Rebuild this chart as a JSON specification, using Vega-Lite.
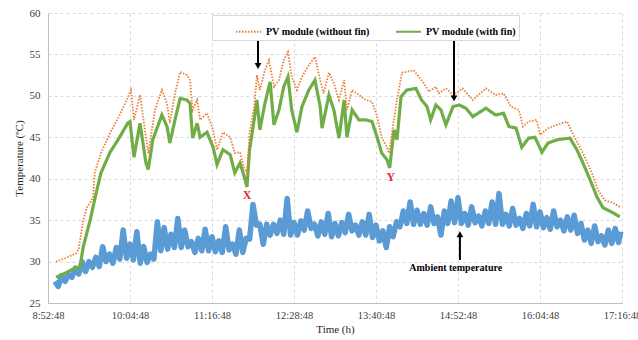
{
  "$schema": "https://vega.github.io/schema/vega-lite/v6.json",
  "width": 574,
  "height": 290,
  "autosize": "none",
  "padding": {"left": 48, "top": 13, "right": 16, "bottom": 37},
  "background": "white",
  "config": {
    "view": {"stroke": null},
    "font": "Liberation Serif",
    "axis": {
      "grid": true,
      "gridDash": [3, 3],
      "gridColor": "#d9d9d9",
      "ticks": false,
      "domainColor": "#bfbfbf",
      "labelFont": "Liberation Serif",
      "labelColor": "#404040",
      "titleFont": "Liberation Serif",
      "titleColor": "#262626",
      "titleFontWeight": "normal",
      "titleFontSize": 11
    },
    "legend": {
      "orient": "none",
      "legendX": 164,
      "legendY": 2,
      "direction": "horizontal",
      "fillColor": "white",
      "strokeColor": "#d9d9d9",
      "padding": 3,
      "symbolOffset": 20,
      "symbolType": "stroke",
      "symbolSize": 625,
      "symbolStrokeWidth": 2,
      "labelFont": "Liberation Serif",
      "labelFontWeight": "bold",
      "labelFontSize": 10,
      "labelColor": "#000000",
      "labelOffset": 4,
      "columnPadding": 5,
      "labelLimit": 300
    }
  },
  "datasets": {
    "amb": [
      {"t":6,"temp":27.6},{"t":9,"temp":27.0},{"t":12,"temp":28.3},{"t":15,"temp":27.6},{"t":18,"temp":28.4},{"t":21,"temp":28.1},{"t":24,"temp":29.2},{"t":27,"temp":28.5},{"t":30,"temp":30.0},{"t":33,"temp":28.8},{"t":36,"temp":30.0},{"t":39,"temp":29.3},{"t":42,"temp":30.5},{"t":45,"temp":29.4},{"t":48,"temp":31.8},{"t":51,"temp":30.0},{"t":54,"temp":30.9},{"t":57,"temp":29.8},{"t":60,"temp":31.7},{"t":63,"temp":30.3},{"t":66,"temp":33.8},{"t":69,"temp":30.4},{"t":72,"temp":32.1},{"t":75,"temp":30.2},{"t":78,"temp":33.6},{"t":81,"temp":29.8},{"t":84,"temp":31.8},{"t":87,"temp":29.9},{"t":90,"temp":30.9},{"t":93,"temp":30.3},{"t":96,"temp":34.8},{"t":99,"temp":31.3},{"t":102,"temp":34.1},{"t":105,"temp":31.5},{"t":108,"temp":33.3},{"t":111,"temp":31.7},{"t":114,"temp":35.2},{"t":117,"temp":31.7},{"t":120,"temp":33.8},{"t":123,"temp":31.8},{"t":126,"temp":32.4},{"t":129,"temp":31.1},{"t":132,"temp":32.8},{"t":135,"temp":31.3},{"t":138,"temp":33.9},{"t":141,"temp":31.3},{"t":144,"temp":33.0},{"t":147,"temp":31.2},{"t":150,"temp":32.5},{"t":153,"temp":31.1},{"t":156,"temp":34.2},{"t":159,"temp":31.4},{"t":162,"temp":32.1},{"t":165,"temp":30.9},{"t":168,"temp":33.8},{"t":171,"temp":31.1},{"t":174,"temp":32.8},{"t":177,"temp":32.7},{"t":180,"temp":36.9},{"t":183,"temp":34.4},{"t":186,"temp":34.5},{"t":189,"temp":32.1},{"t":192,"temp":34.5},{"t":195,"temp":33.2},{"t":198,"temp":34.5},{"t":201,"temp":33.4},{"t":204,"temp":35.0},{"t":207,"temp":33.3},{"t":210,"temp":37.6},{"t":213,"temp":33.2},{"t":216,"temp":34.7},{"t":219,"temp":33.2},{"t":222,"temp":34.9},{"t":225,"temp":33.8},{"t":228,"temp":36.1},{"t":231,"temp":34.0},{"t":234,"temp":34.5},{"t":237,"temp":33.1},{"t":240,"temp":34.8},{"t":243,"temp":33.3},{"t":246,"temp":35.8},{"t":249,"temp":33.0},{"t":252,"temp":34.6},{"t":255,"temp":33.1},{"t":258,"temp":34.7},{"t":261,"temp":33.5},{"t":264,"temp":35.7},{"t":267,"temp":33.7},{"t":270,"temp":34.4},{"t":273,"temp":33.2},{"t":276,"temp":34.8},{"t":279,"temp":33.2},{"t":282,"temp":35.7},{"t":285,"temp":32.9},{"t":288,"temp":34.4},{"t":291,"temp":32.5},{"t":294,"temp":33.7},{"t":297,"temp":31.7},{"t":300,"temp":34.2},{"t":303,"temp":33.0},{"t":306,"temp":34.8},{"t":309,"temp":34.2},{"t":312,"temp":36.1},{"t":315,"temp":34.6},{"t":318,"temp":37.2},{"t":321,"temp":34.5},{"t":324,"temp":36.2},{"t":327,"temp":34.5},{"t":330,"temp":35.8},{"t":333,"temp":34.4},{"t":336,"temp":36.6},{"t":339,"temp":34.6},{"t":342,"temp":35.4},{"t":345,"temp":33.2},{"t":348,"temp":36.1},{"t":351,"temp":34.6},{"t":354,"temp":37.3},{"t":357,"temp":34.7},{"t":360,"temp":37.7},{"t":363,"temp":34.6},{"t":366,"temp":35.8},{"t":369,"temp":34.4},{"t":372,"temp":36.6},{"t":375,"temp":34.7},{"t":378,"temp":35.5},{"t":381,"temp":34.3},{"t":384,"temp":36.1},{"t":387,"temp":34.6},{"t":390,"temp":37.2},{"t":393,"temp":34.5},{"t":396,"temp":38.2},{"t":399,"temp":34.5},{"t":402,"temp":35.7},{"t":405,"temp":34.3},{"t":408,"temp":36.4},{"t":411,"temp":34.4},{"t":414,"temp":35.2},{"t":417,"temp":34.0},{"t":420,"temp":35.8},{"t":423,"temp":34.3},{"t":426,"temp":36.9},{"t":429,"temp":34.2},{"t":432,"temp":36.0},{"t":435,"temp":34.1},{"t":438,"temp":35.3},{"t":441,"temp":33.9},{"t":444,"temp":36.1},{"t":447,"temp":34.2},{"t":450,"temp":35.0},{"t":453,"temp":33.7},{"t":456,"temp":35.4},{"t":459,"temp":33.8},{"t":462,"temp":35.6},{"t":465,"temp":33.4},{"t":468,"temp":34.6},{"t":471,"temp":32.6},{"t":474,"temp":33.8},{"t":477,"temp":32.2},{"t":480,"temp":34.3},{"t":483,"temp":32.4},{"t":486,"temp":33.1},{"t":489,"temp":32.0},{"t":492,"temp":33.8},{"t":495,"temp":32.2},{"t":498,"temp":34.0},{"t":501,"temp":32.3},{"t":503,"temp":33.6}
    ],
    "pv": [
      {"series":"PV module (without fin)","t":7,"temp":30.0},{"series":"PV module (without fin)","t":15,"temp":30.4},{"series":"PV module (without fin)","t":24.6,"temp":31.0},{"series":"PV module (without fin)","t":27,"temp":31.5},{"series":"PV module (without fin)","t":30.7,"temp":34.8},{"series":"PV module (without fin)","t":34,"temp":36.5},{"series":"PV module (without fin)","t":37,"temp":37.1},{"series":"PV module (without fin)","t":39.5,"temp":37.7},{"series":"PV module (without fin)","t":41,"temp":40.7},{"series":"PV module (without fin)","t":46.5,"temp":43.1},{"series":"PV module (without fin)","t":54.4,"temp":45.5},{"series":"PV module (without fin)","t":61.5,"temp":47.3},{"series":"PV module (without fin)","t":68.5,"temp":49.3},{"series":"PV module (without fin)","t":72.9,"temp":50.7},{"series":"PV module (without fin)","t":75.5,"temp":47.1},{"series":"PV module (without fin)","t":80.8,"temp":50.1},{"series":"PV module (without fin)","t":86,"temp":45.0},{"series":"PV module (without fin)","t":88,"temp":43.1},{"series":"PV module (without fin)","t":94,"temp":48.3},{"series":"PV module (without fin)","t":100,"temp":50.7},{"series":"PV module (without fin)","t":104.5,"temp":49.1},{"series":"PV module (without fin)","t":107,"temp":46.7},{"series":"PV module (without fin)","t":111.5,"temp":50.3},{"series":"PV module (without fin)","t":116,"temp":52.9},{"series":"PV module (without fin)","t":122,"temp":52.5},{"series":"PV module (without fin)","t":124.7,"temp":51.9},{"series":"PV module (without fin)","t":127,"temp":48.3},{"series":"PV module (without fin)","t":131,"temp":49.5},{"series":"PV module (without fin)","t":133.5,"temp":47.1},{"series":"PV module (without fin)","t":139.6,"temp":47.9},{"series":"PV module (without fin)","t":145,"temp":45.9},{"series":"PV module (without fin)","t":148.4,"temp":43.5},{"series":"PV module (without fin)","t":153.6,"temp":45.6},{"series":"PV module (without fin)","t":160,"temp":45.0},{"series":"PV module (without fin)","t":164,"temp":43.1},{"series":"PV module (without fin)","t":168.6,"temp":43.2},{"series":"PV module (without fin)","t":172,"temp":41.4},{"series":"PV module (without fin)","t":174.7,"temp":40.7},{"series":"PV module (without fin)","t":177,"temp":45.5},{"series":"PV module (without fin)","t":181,"temp":48.7},{"series":"PV module (without fin)","t":183.5,"temp":52.5},{"series":"PV module (without fin)","t":186,"temp":50.7},{"series":"PV module (without fin)","t":190.5,"temp":53.1},{"series":"PV module (without fin)","t":194,"temp":54.3},{"series":"PV module (without fin)","t":198.4,"temp":51.1},{"series":"PV module (without fin)","t":202.8,"temp":51.9},{"series":"PV module (without fin)","t":207,"temp":54.3},{"series":"PV module (without fin)","t":210.7,"temp":55.3},{"series":"PV module (without fin)","t":214,"temp":52.3},{"series":"PV module (without fin)","t":218.6,"temp":50.7},{"series":"PV module (without fin)","t":223,"temp":52.3},{"series":"PV module (without fin)","t":229,"temp":53.7},{"series":"PV module (without fin)","t":234.4,"temp":54.7},{"series":"PV module (without fin)","t":239,"temp":51.9},{"series":"PV module (without fin)","t":242,"temp":50.3},{"series":"PV module (without fin)","t":246.7,"temp":52.8},{"series":"PV module (without fin)","t":251,"temp":51.5},{"series":"PV module (without fin)","t":255.5,"temp":49.5},{"series":"PV module (without fin)","t":260,"temp":51.9},{"series":"PV module (without fin)","t":262.5,"temp":48.3},{"series":"PV module (without fin)","t":267,"temp":50.7},{"series":"PV module (without fin)","t":273,"temp":50.1},{"series":"PV module (without fin)","t":279,"temp":49.5},{"series":"PV module (without fin)","t":284.5,"temp":49.3},{"series":"PV module (without fin)","t":289,"temp":47.5},{"series":"PV module (without fin)","t":293,"temp":45.0},{"series":"PV module (without fin)","t":297.6,"temp":43.8},{"series":"PV module (without fin)","t":299.4,"temp":43.1},{"series":"PV module (without fin)","t":302,"temp":45.5},{"series":"PV module (without fin)","t":306.4,"temp":49.5},{"series":"PV module (without fin)","t":310.8,"temp":52.8},{"series":"PV module (without fin)","t":315,"temp":52.9},{"series":"PV module (without fin)","t":321,"temp":53.1},{"series":"PV module (without fin)","t":325.7,"temp":52.3},{"series":"PV module (without fin)","t":330,"temp":51.5},{"series":"PV module (without fin)","t":334.5,"temp":50.5},{"series":"PV module (without fin)","t":340.6,"temp":51.1},{"series":"PV module (without fin)","t":343,"temp":50.3},{"series":"PV module (without fin)","t":349.4,"temp":50.9},{"series":"PV module (without fin)","t":356,"temp":50.1},{"series":"PV module (without fin)","t":364,"temp":50.9},{"series":"PV module (without fin)","t":373,"temp":49.5},{"series":"PV module (without fin)","t":384.5,"temp":50.9},{"series":"PV module (without fin)","t":393,"temp":50.1},{"series":"PV module (without fin)","t":400,"temp":50.3},{"series":"PV module (without fin)","t":406.5,"temp":48.7},{"series":"PV module (without fin)","t":413.5,"temp":48.3},{"series":"PV module (without fin)","t":417,"temp":46.3},{"series":"PV module (without fin)","t":422,"temp":46.9},{"series":"PV module (without fin)","t":429,"temp":47.1},{"series":"PV module (without fin)","t":432,"temp":45.3},{"series":"PV module (without fin)","t":439,"temp":46.1},{"series":"PV module (without fin)","t":447,"temp":46.5},{"series":"PV module (without fin)","t":455.7,"temp":46.9},{"series":"PV module (without fin)","t":462.7,"temp":44.9},{"series":"PV module (without fin)","t":469.7,"temp":43.1},{"series":"PV module (without fin)","t":477.6,"temp":40.7},{"series":"PV module (without fin)","t":483,"temp":38.6},{"series":"PV module (without fin)","t":489,"temp":37.4},{"series":"PV module (without fin)","t":496,"temp":37.1},{"series":"PV module (without fin)","t":502,"temp":36.6},
      {"series":"PV module (with fin)","t":7,"temp":28.1},{"series":"PV module (with fin)","t":15,"temp":28.6},{"series":"PV module (with fin)","t":23.5,"temp":29.2},{"series":"PV module (with fin)","t":28,"temp":29.3},{"series":"PV module (with fin)","t":31,"temp":31.8},{"series":"PV module (with fin)","t":37,"temp":35.0},{"series":"PV module (with fin)","t":41.5,"temp":37.8},{"series":"PV module (with fin)","t":46.5,"temp":40.7},{"series":"PV module (with fin)","t":54.5,"temp":43.2},{"series":"PV module (with fin)","t":61.5,"temp":44.7},{"series":"PV module (with fin)","t":70,"temp":46.7},{"series":"PV module (with fin)","t":72,"temp":46.9},{"series":"PV module (with fin)","t":75.5,"temp":42.6},{"series":"PV module (with fin)","t":80.8,"temp":46.7},{"series":"PV module (with fin)","t":86,"temp":41.9},{"series":"PV module (with fin)","t":88,"temp":41.1},{"series":"PV module (with fin)","t":92,"temp":44.7},{"series":"PV module (with fin)","t":100,"temp":47.7},{"series":"PV module (with fin)","t":104.5,"temp":46.3},{"series":"PV module (with fin)","t":107,"temp":44.3},{"series":"PV module (with fin)","t":111.5,"temp":47.1},{"series":"PV module (with fin)","t":116,"temp":49.7},{"series":"PV module (with fin)","t":122,"temp":49.5},{"series":"PV module (with fin)","t":124.7,"temp":49.1},{"series":"PV module (with fin)","t":127,"temp":44.9},{"series":"PV module (with fin)","t":131,"temp":46.7},{"series":"PV module (with fin)","t":133.5,"temp":45.0},{"series":"PV module (with fin)","t":139.6,"temp":45.6},{"series":"PV module (with fin)","t":145,"temp":43.8},{"series":"PV module (with fin)","t":148.4,"temp":41.7},{"series":"PV module (with fin)","t":153.6,"temp":43.5},{"series":"PV module (with fin)","t":160,"temp":42.9},{"series":"PV module (with fin)","t":164,"temp":40.7},{"series":"PV module (with fin)","t":168.6,"temp":41.9},{"series":"PV module (with fin)","t":172,"temp":40.4},{"series":"PV module (with fin)","t":174.7,"temp":39.0},{"series":"PV module (with fin)","t":177,"temp":43.5},{"series":"PV module (with fin)","t":181,"temp":47.1},{"series":"PV module (with fin)","t":183.5,"temp":49.5},{"series":"PV module (with fin)","t":186,"temp":45.9},{"series":"PV module (with fin)","t":190.5,"temp":49.1},{"series":"PV module (with fin)","t":195,"temp":51.7},{"series":"PV module (with fin)","t":198.4,"temp":46.5},{"series":"PV module (with fin)","t":202.8,"temp":48.3},{"series":"PV module (with fin)","t":207,"temp":51.1},{"series":"PV module (with fin)","t":210.7,"temp":52.3},{"series":"PV module (with fin)","t":214,"temp":48.3},{"series":"PV module (with fin)","t":218.6,"temp":45.6},{"series":"PV module (with fin)","t":223,"temp":48.7},{"series":"PV module (with fin)","t":229,"temp":50.7},{"series":"PV module (with fin)","t":234.4,"temp":51.9},{"series":"PV module (with fin)","t":239,"temp":48.7},{"series":"PV module (with fin)","t":240.6,"temp":46.1},{"series":"PV module (with fin)","t":246.7,"temp":50.1},{"series":"PV module (with fin)","t":251,"temp":48.3},{"series":"PV module (with fin)","t":255.5,"temp":44.9},{"series":"PV module (with fin)","t":260,"temp":49.5},{"series":"PV module (with fin)","t":262.5,"temp":45.0},{"series":"PV module (with fin)","t":267,"temp":48.3},{"series":"PV module (with fin)","t":273,"temp":47.1},{"series":"PV module (with fin)","t":279,"temp":47.1},{"series":"PV module (with fin)","t":284.5,"temp":46.9},{"series":"PV module (with fin)","t":289,"temp":45.0},{"series":"PV module (with fin)","t":293,"temp":43.1},{"series":"PV module (with fin)","t":297.6,"temp":42.3},{"series":"PV module (with fin)","t":300,"temp":41.3},{"series":"PV module (with fin)","t":303.8,"temp":45.9},{"series":"PV module (with fin)","t":306.4,"temp":44.7},{"series":"PV module (with fin)","t":310,"temp":49.9},{"series":"PV module (with fin)","t":315,"temp":50.7},{"series":"PV module (with fin)","t":323,"temp":50.9},{"series":"PV module (with fin)","t":328,"temp":49.5},{"series":"PV module (with fin)","t":332.8,"temp":48.7},{"series":"PV module (with fin)","t":336,"temp":47.1},{"series":"PV module (with fin)","t":340.6,"temp":48.9},{"series":"PV module (with fin)","t":345,"temp":48.3},{"series":"PV module (with fin)","t":349.4,"temp":46.5},{"series":"PV module (with fin)","t":355.6,"temp":48.7},{"series":"PV module (with fin)","t":361,"temp":48.9},{"series":"PV module (with fin)","t":367,"temp":48.5},{"series":"PV module (with fin)","t":373,"temp":47.5},{"series":"PV module (with fin)","t":384.5,"temp":48.5},{"series":"PV module (with fin)","t":393,"temp":47.7},{"series":"PV module (with fin)","t":400,"temp":47.9},{"series":"PV module (with fin)","t":404.7,"temp":46.3},{"series":"PV module (with fin)","t":411,"temp":46.1},{"series":"PV module (with fin)","t":416,"temp":43.8},{"series":"PV module (with fin)","t":422,"temp":44.9},{"series":"PV module (with fin)","t":427.6,"temp":45.0},{"series":"PV module (with fin)","t":433.7,"temp":43.2},{"series":"PV module (with fin)","t":439,"temp":44.3},{"series":"PV module (with fin)","t":447,"temp":44.7},{"series":"PV module (with fin)","t":458.3,"temp":44.9},{"series":"PV module (with fin)","t":464.4,"temp":43.5},{"series":"PV module (with fin)","t":469.7,"temp":41.9},{"series":"PV module (with fin)","t":475.9,"temp":39.9},{"series":"PV module (with fin)","t":482,"temp":37.8},{"series":"PV module (with fin)","t":487.3,"temp":36.5},{"series":"PV module (with fin)","t":496,"temp":35.9},{"series":"PV module (with fin)","t":502,"temp":35.4}
    ],
    "arrows": [
      {"t": 184.4, "from": 57.6, "to": 53.6, "dir": "down"},
      {"t": 356.5, "from": 57.3, "to": 49.7, "dir": "down"},
      {"t": 361.7, "from": 30.2, "to": 33.3, "dir": "up"}
    ],
    "marks": [
      {"label": "X", "t": 174.7, "temp": 38.0},
      {"label": "Y", "t": 301, "temp": 40.2}
    ],
    "amblabel": [
      {"label": "Ambient temperature", "t": 358, "temp": 29.2}
    ]
  },
  "encoding": {
    "x": {
      "field": "t",
      "type": "quantitative",
      "scale": {"domain": [0, 504], "nice": false, "zero": false},
      "axis": {
        "title": "Time (h)",
        "values": [0, 72, 144, 216, 288, 360, 432, 504],
        "labelExpr": "floor((532.8 + datum.value) / 60) + ':' + (floor((532.8 + datum.value) % 60) < 10 ? '0' : '') + floor((532.8 + datum.value) % 60) + ':48'",
        "labelFontSize": 10.5,
        "labelPadding": 7,
        "labelFlush": false,
        "labelOverlap": false,
        "labelBound": false,
        "titlePadding": 3
      }
    },
    "y": {
      "field": "temp",
      "type": "quantitative",
      "scale": {"domain": [25, 60], "nice": false, "zero": false},
      "axis": {
        "title": "Temperature (ºC)",
        "values": [25, 30, 35, 40, 45, 50, 55, 60],
        "labelFontSize": 11,
        "labelPadding": 8,
        "titlePadding": 5
      }
    }
  },
  "layer": [
    {
      "data": {"name": "amb"},
      "mark": {"type": "line", "color": "#5B9BD5", "strokeWidth": 5.5, "strokeJoin": "round"}
    },
    {
      "data": {"name": "pv"},
      "transform": [{"filter": "datum.series === 'PV module (with fin)'"}],
      "mark": {"type": "line", "strokeWidth": 3.2},
      "encoding": {
        "color": {"field": "series", "type": "nominal", "scale": {"domain": ["PV module (without fin)", "PV module (with fin)"], "range": ["#ED7D31", "#70AD47"]}, "legend": {"title": null}},
        "strokeDash": {"field": "series", "type": "nominal", "scale": {"domain": ["PV module (without fin)", "PV module (with fin)"], "range": [[1.5, 1.5], [1, 0]]}, "legend": {"title": null}}
      }
    },
    {
      "data": {"name": "pv"},
      "transform": [{"filter": "datum.series === 'PV module (without fin)'"}],
      "mark": {"type": "line", "strokeWidth": 1.8},
      "encoding": {
        "color": {"field": "series", "type": "nominal", "legend": {"title": null}},
        "strokeDash": {"field": "series", "type": "nominal", "legend": {"title": null}}
      }
    },
    {
      "data": {"name": "arrows"},
      "mark": {"type": "rule", "color": "#000000", "strokeWidth": 2},
      "encoding": {
        "y": {"field": "from", "type": "quantitative"},
        "y2": {"field": "to"}
      }
    },
    {
      "data": {"name": "arrows"},
      "mark": {"type": "point", "filled": true, "color": "#000000", "opacity": 1, "size": 45},
      "encoding": {
        "y": {"field": "to", "type": "quantitative"},
        "shape": {"field": "dir", "type": "nominal", "scale": {"domain": ["down", "up"], "range": ["triangle-down", "triangle-up"]}, "legend": null}
      }
    },
    {
      "data": {"name": "marks"},
      "mark": {"type": "text", "color": "#E8283C", "fontWeight": "bold", "fontSize": 12, "font": "Liberation Serif"},
      "encoding": {"text": {"field": "label"}}
    },
    {
      "data": {"name": "amblabel"},
      "mark": {"type": "text", "color": "#000000", "fontWeight": "bold", "fontSize": 10, "font": "Liberation Serif"},
      "encoding": {"text": {"field": "label"}}
    }
  ]
}
